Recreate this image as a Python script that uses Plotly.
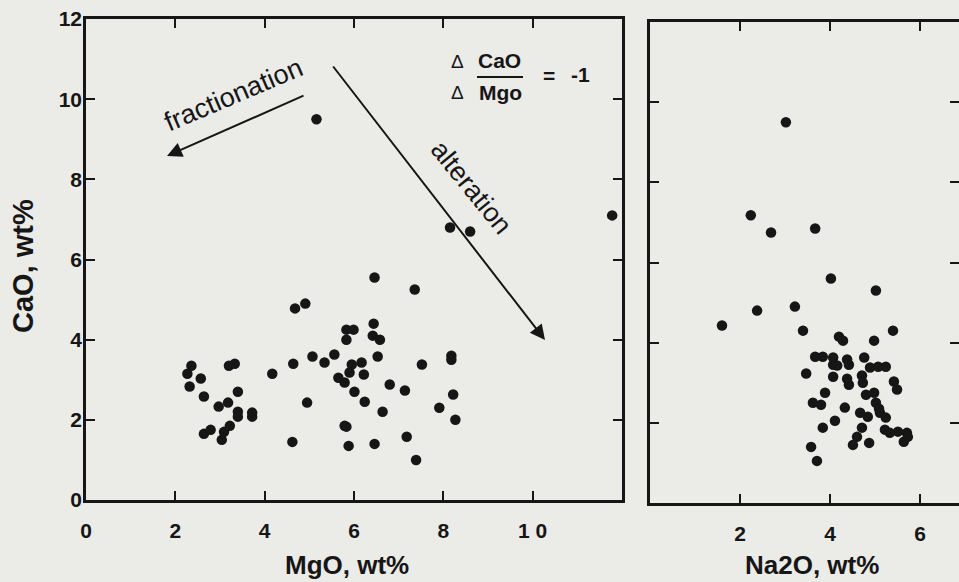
import plotly.graph_objects as go

# ---- data ----
mgo = [5.16, 8.15, 8.60, 11.78, 6.46, 7.36, 4.68, 4.91, 2.36, 2.27, 2.57, 2.32, 2.64,
       3.20, 3.33, 4.17, 4.64, 5.07, 3.40, 2.97, 3.18, 3.40, 3.40, 3.72, 3.72, 2.64,
       2.79, 3.09, 3.22, 3.04, 4.95, 4.62, 6.44, 5.83, 5.99, 5.83, 6.42, 6.58, 5.34,
       5.56, 6.53, 5.95, 6.17, 5.90, 6.22, 5.65, 5.79, 6.01, 6.24, 6.80, 7.14, 7.52,
       8.18, 8.18, 8.22, 7.91, 8.27, 6.64, 5.79, 5.83, 5.88, 6.46, 7.18, 7.39]
cao_mgo = [9.5, 6.8, 6.7, 7.1, 5.55, 5.25, 4.78, 4.9, 3.35, 3.15, 3.03, 2.83, 2.58,
           3.35, 3.4, 3.15, 3.4, 3.58, 2.7, 2.33, 2.43, 2.2, 2.08, 2.18, 2.08, 1.65,
           1.75, 1.7, 1.85, 1.5, 2.43, 1.45, 4.4, 4.25, 4.25, 4.0, 4.1, 4.0, 3.43,
           3.63, 3.58, 3.38, 3.43, 3.18, 3.13, 3.05, 2.93, 2.7, 2.45, 2.88, 2.73, 3.38,
           3.6, 3.5, 2.63, 2.3, 2.0, 2.2, 1.85, 1.83, 1.35, 1.4, 1.58, 1.0]

na2o = [3.02, 2.24, 2.69, 3.67, 4.02, 5.02, 2.38, 3.22, 1.60, 3.40, 3.67, 3.84, 3.47,
        3.89, 3.62, 3.80, 3.84, 3.58, 3.71, 4.20, 4.29, 4.98, 5.40, 4.07, 4.07, 4.16,
        4.38, 4.42, 4.76, 4.07, 4.38, 4.42, 4.71, 4.73, 4.89, 5.07, 5.24, 5.42, 5.49,
        4.80, 4.98, 5.02, 5.09, 4.33, 4.67, 4.84, 5.11, 5.24, 4.11, 5.22, 5.33, 5.51,
        5.71, 5.73, 5.64, 4.71, 4.60, 4.51, 4.87]
cao_na2o = [9.5, 7.18, 6.75, 6.85, 5.6, 5.3, 4.8, 4.9, 4.43, 4.3, 3.65, 3.65, 3.23,
            2.75, 2.5, 2.45, 1.88, 1.4, 1.05, 4.15, 4.05, 4.05, 4.3, 3.63, 3.45, 3.43,
            3.58, 3.45, 3.63, 3.15, 3.1, 2.95, 3.18, 3.0, 3.38, 3.4, 3.4, 3.03, 2.83,
            2.7, 2.75, 2.5, 2.35, 2.38, 2.25, 2.15, 2.25, 2.13, 2.05, 1.83, 1.75, 1.78,
            1.75, 1.65, 1.53, 1.88, 1.65, 1.45, 1.5]

y_ticks = [0, 2, 4, 6, 8, 10, 12]
y_ticklabels = ["0", "2", "4", "6", "8", "10", "12"]
x1_ticks = [0, 2, 4, 6, 8, 10]
x1_ticklabels = ["0", "2", "4", "6", "8", "1 0"]
x2_ticks = [0, 2, 4, 6]
x2_ticklabels = ["", "2", "4", "6"]

W, H = 959, 582
INK = "#161616"
BG = "#ebebe8"
FONT = "Liberation Sans, Arial, sans-serif"

def px(x):
    return x / W

def py(y):
    return 1 - y / H

fig = go.Figure()
mk = dict(color=INK, size=10.5, line=dict(width=0))
fig.add_trace(go.Scatter(x=mgo, y=cao_mgo, mode="markers", marker=mk,
                         xaxis="x", yaxis="y", showlegend=False))
fig.add_trace(go.Scatter(x=na2o, y=cao_na2o, mode="markers", marker=mk,
                         xaxis="x2", yaxis="y2", showlegend=False))

axis_common = dict(showline=True, linecolor=INK, linewidth=2.5, mirror="ticks",
                   ticks="inside", ticklen=9, tickwidth=2, tickcolor=INK,
                   showgrid=False, zeroline=False, automargin=False,
                   tickfont=dict(family=FONT, size=21, color=INK, weight="bold"))

fig.update_layout(
    width=W, height=H,
    margin=dict(l=0, r=0, t=0, b=0),
    paper_bgcolor=BG, plot_bgcolor=BG,
    xaxis=dict(domain=[px(86), px(622)], range=[0, 12], anchor="y",
               tickmode="array", tickvals=x1_ticks, ticktext=x1_ticklabels,
               ticklabelstandoff=10, **axis_common),
    yaxis=dict(domain=[py(500), py(19)], range=[0, 12], anchor="x",
               tickmode="array", tickvals=y_ticks, ticktext=y_ticklabels,
               ticklabelstandoff=-3, **axis_common),
    xaxis2=dict(domain=[px(650), 1.0], range=[0, (W - 650) / 45.0], anchor="y2",
                tickmode="array", tickvals=x2_ticks, ticktext=x2_ticklabels,
                ticklabelstandoff=10, **axis_common),
    yaxis2=dict(domain=[py(503), py(22)], range=[0, 12], anchor="x2",
                tickmode="array", tickvals=y_ticks, showticklabels=False,
                **axis_common),
)

def txt(x, y, s, size, bold=True, angle=0, xanchor="center", yanchor="middle"):
    fig.add_annotation(x=px(x), y=py(y), xref="paper", yref="paper", text=s,
                       showarrow=False, textangle=angle, xanchor=xanchor, yanchor=yanchor,
                       font=dict(family=FONT, size=size, color=INK,
                                 weight="bold" if bold else "normal"))

# axis titles
txt(347, 565, "MgO, wt%", 26)
txt(812, 565, "Na2O, wt%", 26)
txt(23, 266, "CaO, wt%", 29, angle=-90)

# trend annotations
txt(233, 95, "fractionation", 27, bold=False, angle=-23)
txt(471, 187, "alteration", 27, bold=False, angle=51)

# Delta ratio
txt(457, 62, "Δ", 19, bold=False)
txt(457, 93, "Δ", 19, bold=False)
txt(499, 61, "CaO", 21)
txt(500, 93, "Mgo", 21)
txt(549, 76, "=", 21)
txt(580, 75, "-1", 21)
fig.add_shape(type="line", xref="paper", yref="paper",
              x0=px(477), x1=px(523), y0=py(77), y1=py(77),
              line=dict(color=INK, width=2))

# arrows
fig.add_annotation(x=px(167), y=py(156), xref="paper", yref="paper",
                   ax=138, ay=-61, axref="pixel", ayref="pixel",
                   showarrow=True, arrowhead=2, arrowsize=1.5, arrowwidth=2,
                   arrowcolor=INK, text="")
fig.add_annotation(x=px(545), y=py(340), xref="paper", yref="paper",
                   ax=-213, ay=-275, axref="pixel", ayref="pixel",
                   showarrow=True, arrowhead=2, arrowsize=1.5, arrowwidth=2,
                   arrowcolor=INK, text="")

fig.write_html(
    "out.html",
    config={"displayModeBar": False},
    post_script=("document.body.style.margin='0';"
                 "document.body.style.overflow='hidden';"
                 "document.body.style.background='" + BG + "';"),
)
